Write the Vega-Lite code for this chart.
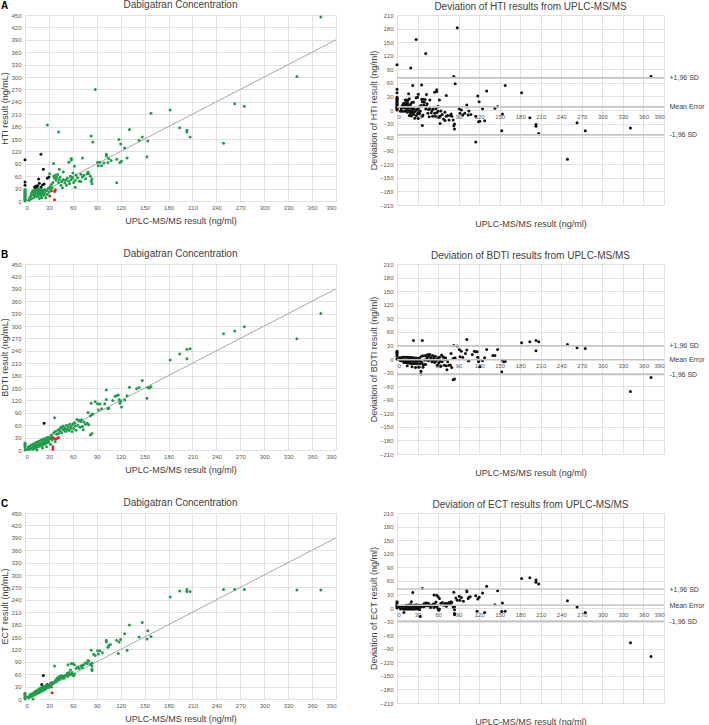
{
"$schema": "https://vega.github.io/schema/vega-lite/v6.json",
"padding": {"left": 0, "top": 0, "right": 1, "bottom": 1},
"spacing": 21,
"config": {
  "font": "Liberation Sans",
  "view": {"stroke": null},
  "axis": {"labelFontSize": 6, "labelColor": "#595959", "labelOverlap": false, "titleFontSize": 9, "titleFontWeight": "normal", "titleColor": "#404040", "gridColor": "#d9d9d9", "gridWidth": 0.8, "ticks": false, "domain": false, "labelPadding": 3, "titlePadding": 3},
  "axisX": {"titlePadding": 6, "labelOverlap": false},
  "axisY": {"titlePadding": 1, "labelPadding": 4, "labelOverlap": false},
  "title": {"fontSize": 10, "fontWeight": "normal", "color": "#404040", "offset": 2},
  "circle": {"size": 9, "opacity": 1}
},
"datasets": {
"diag": [{"x": 0, "y": 0}, {"x": 390, "y": 390}],
"sdA": [{"v": 71}, {"v": 7}, {"v": -55}],
"sdB": [{"v": 29}, {"v": -1.5}, {"v": -34}],
"sdC": [{"v": 42}, {"v": 6}, {"v": -29}],
"A": [
{"x":371,"y":445,"d":74,"c":"g"},{"x":341,"y":301,"d":-40,"c":"g"},{"x":275,"y":229,"d":-46,"c":"g"},{"x":263,"y":235,"d":-28,"c":"g"},{"x":249,"y":140,"d":-109,"c":"g"},{"x":207,"y":155,"d":-52,"c":"g"},{"x":203,"y":171,"d":-32,"c":"g"},{"x":203,"y":167,"d":-36,"c":"g"},{"x":194,"y":177,"d":-17,"c":"g"},{"x":182,"y":220,"d":38,"c":"g"},{"x":158,"y":212,"d":54,"c":"g"},{"x":154,"y":145,"d":-9,"c":"g"},{"x":153,"y":107,"d":-46,"c":"g"},{"x":147,"y":155,"d":8,"c":"g"},{"x":143,"y":147,"d":4,"c":"g"},{"x":131,"y":173,"d":42,"c":"g"},{"x":128,"y":104,"d":-24,"c":"g"},{"x":125,"y":128,"d":3,"c":"g"},{"x":120,"y":138,"d":18,"c":"g"},{"x":118,"y":149,"d":31,"c":"g"},{"x":119,"y":93,"d":-26,"c":"g"},{"x":115,"y":101,"d":-14,"c":"g"},{"x":115,"y":44,"d":-71,"c":"g"},{"x":121,"y":96,"d":-25,"c":"g"},{"x":102,"y":113,"d":11,"c":"g"},{"x":102,"y":109,"d":7,"c":"g"},{"x":105,"y":103,"d":-2,"c":"g"},{"x":104,"y":93,"d":-11,"c":"g"},{"x":91,"y":94,"d":3,"c":"g"},{"x":94,"y":94,"d":0,"c":"g"},{"x":92,"y":85,"d":-7,"c":"g"},{"x":88,"y":270,"d":182,"c":"g"},{"x":83,"y":157,"d":74,"c":"g"},{"x":85,"y":143,"d":58,"c":"g"},{"x":72,"y":104,"d":32,"c":"g"},{"x":79,"y":70,"d":-9,"c":"g"},{"x":80,"y":66,"d":-14,"c":"g"},{"x":82,"y":60,"d":-22,"c":"g"},{"x":83,"y":48,"d":-35,"c":"g"},{"x":84,"y":42,"d":-42,"c":"g"},{"x":84,"y":53,"d":-31,"c":"g"},{"x":70,"y":65,"d":-5,"c":"g"},{"x":70,"y":47,"d":-23,"c":"g"},{"x":58,"y":103,"d":45,"c":"g"},{"x":58,"y":99,"d":41,"c":"g"},{"x":55,"y":94,"d":39,"c":"g"},{"x":62,"y":84,"d":22,"c":"g"},{"x":63,"y":33,"d":-30,"c":"g"},{"x":43,"y":77,"d":34,"c":"g"},{"x":42,"y":167,"d":125,"c":"g"},{"x":28,"y":184,"d":156,"c":"g"},{"x":36,"y":91,"d":55,"c":"g"},{"x":31,"y":66,"d":35,"c":"g"},{"x":60,"y":68,"d":8,"c":"g"},{"x":48,"y":70,"d":22,"c":"g"},
{"x":36,"y":60,"d":24,"c":"g"},{"x":37,"y":55,"d":18,"c":"g"},{"x":38,"y":62,"d":24,"c":"g"},{"x":39,"y":50,"d":11,"c":"g"},{"x":40,"y":57,"d":17,"c":"g"},{"x":41,"y":64,"d":23,"c":"g"},{"x":42,"y":45,"d":3,"c":"g"},{"x":43,"y":52,"d":9,"c":"g"},{"x":44,"y":58,"d":14,"c":"g"},{"x":45,"y":38,"d":-7,"c":"g"},{"x":46,"y":47,"d":1,"c":"g"},{"x":47,"y":32,"d":-15,"c":"g"},{"x":48,"y":52,"d":4,"c":"g"},{"x":50,"y":44,"d":-6,"c":"g"},{"x":51,"y":50,"d":-1,"c":"g"},{"x":52,"y":38,"d":-14,"c":"g"},{"x":53,"y":55,"d":2,"c":"g"},{"x":55,"y":48,"d":-7,"c":"g"},{"x":56,"y":42,"d":-14,"c":"g"},{"x":57,"y":60,"d":3,"c":"g"},{"x":58,"y":52,"d":-6,"c":"g"},{"x":60,"y":57,"d":-3,"c":"g"},{"x":61,"y":45,"d":-16,"c":"g"},{"x":63,"y":50,"d":-13,"c":"g"},{"x":64,"y":62,"d":-2,"c":"g"},{"x":66,"y":56,"d":-10,"c":"g"},{"x":68,"y":48,"d":-20,"c":"g"},{"x":72,"y":58,"d":-14,"c":"g"},{"x":74,"y":62,"d":-12,"c":"g"},{"x":76,"y":54,"d":-22,"c":"g"},{"x":78,"y":66,"d":-12,"c":"g"},{"x":96,"y":85,"d":-11,"c":"g"},{"x":99,"y":92,"d":-7,"c":"g"},{"x":108,"y":98,"d":-10,"c":"g"},
{"x":0,"y":100,"d":100,"c":"k"},{"x":0,"y":46,"d":46,"c":"k"},{"x":0,"y":38,"d":38,"c":"k"},{"x":20,"y":113,"d":93,"c":"k"},{"x":23,"y":77,"d":54,"c":"k"},{"x":17,"y":53,"d":36,"c":"k"},{"x":18,"y":43,"d":25,"c":"k"},{"x":24,"y":41,"d":17,"c":"k"},{"x":22,"y":39,"d":17,"c":"k"},{"x":28,"y":55,"d":27,"c":"k"},{"x":30,"y":58,"d":28,"c":"k"},{"x":12,"y":34,"d":22,"c":"k"},{"x":15,"y":31,"d":16,"c":"k"},{"x":13,"y":29,"d":16,"c":"k"},{"x":20,"y":33,"d":13,"c":"k"},{"x":14,"y":36,"d":22,"c":"k"},{"x":16,"y":37,"d":21,"c":"k"},
{"x":33,"y":25,"d":-8,"c":"r"},{"x":31,"y":12,"d":-19,"c":"r"},{"x":38,"y":27,"d":-11,"c":"r"},{"x":37,"y":23,"d":-14,"c":"r"},{"x":37,"y":3,"d":-34,"c":"r"},
{"x":0,"y":0,"d":0,"c":"g"},{"x":0,"y":2,"d":2,"c":"g"},{"x":0,"y":4,"d":4,"c":"g"},{"x":0,"y":6,"d":6,"c":"g"},{"x":0,"y":8,"d":8,"c":"g"},{"x":0,"y":10,"d":10,"c":"g"},{"x":0,"y":12,"d":12,"c":"g"},{"x":0,"y":14,"d":14,"c":"g"},{"x":0,"y":16,"d":16,"c":"g"},{"x":0,"y":18,"d":18,"c":"g"},{"x":0,"y":20,"d":20,"c":"g"},{"x":0,"y":22,"d":22,"c":"g"},{"x":0,"y":24,"d":24,"c":"g"},{"x":0,"y":26,"d":26,"c":"g"},{"x":0,"y":28,"d":28,"c":"g"},
{"x":5,"y":2,"d":-3,"c":"g"},{"x":6,"y":8,"d":2,"c":"g"},{"x":7,"y":12,"d":5,"c":"g"},{"x":8,"y":5,"d":-3,"c":"g"},{"x":8,"y":18,"d":10,"c":"g"},{"x":9,"y":22,"d":13,"c":"g"},{"x":10,"y":15,"d":5,"c":"g"},{"x":10,"y":25,"d":15,"c":"g"},{"x":11,"y":20,"d":9,"c":"g"},{"x":11,"y":8,"d":-3,"c":"g"},{"x":12,"y":26,"d":14,"c":"g"},{"x":12,"y":17,"d":5,"c":"g"},{"x":13,"y":22,"d":9,"c":"g"},{"x":13,"y":12,"d":-1,"c":"g"},{"x":14,"y":27,"d":13,"c":"g"},{"x":14,"y":19,"d":5,"c":"g"},{"x":15,"y":24,"d":9,"c":"g"},{"x":15,"y":10,"d":-5,"c":"g"},{"x":16,"y":28,"d":12,"c":"g"},{"x":16,"y":18,"d":2,"c":"g"},{"x":17,"y":25,"d":8,"c":"g"},{"x":17,"y":14,"d":-3,"c":"g"},{"x":18,"y":22,"d":4,"c":"g"},{"x":18,"y":6,"d":-12,"c":"g"},{"x":19,"y":28,"d":9,"c":"g"},{"x":19,"y":16,"d":-3,"c":"g"},{"x":20,"y":25,"d":5,"c":"g"},{"x":20,"y":12,"d":-8,"c":"g"},{"x":21,"y":20,"d":-1,"c":"g"},{"x":21,"y":8,"d":-13,"c":"g"},{"x":22,"y":27,"d":5,"c":"g"},{"x":22,"y":17,"d":-5,"c":"g"},{"x":23,"y":24,"d":1,"c":"g"},{"x":24,"y":14,"d":-10,"c":"g"},{"x":25,"y":28,"d":3,"c":"g"},{"x":25,"y":20,"d":-5,"c":"g"},{"x":26,"y":8,"d":-18,"c":"g"},{"x":27,"y":25,"d":-2,"c":"g"},{"x":28,"y":16,"d":-12,"c":"g"},{"x":29,"y":30,"d":1,"c":"g"},{"x":30,"y":22,"d":-8,"c":"g"},{"x":31,"y":34,"d":3,"c":"g"},{"x":32,"y":28,"d":-4,"c":"g"},{"x":33,"y":40,"d":7,"c":"g"},{"x":34,"y":32,"d":-2,"c":"g"},{"x":35,"y":45,"d":10,"c":"g"}
],
"B": [
{"x":371,"y":330,"d":-41,"c":"g"},{"x":341,"y":269,"d":-72,"c":"g"},{"x":275,"y":298,"d":23,"c":"g"},{"x":263,"y":288,"d":25,"c":"g"},{"x":249,"y":281,"d":32,"c":"g"},{"x":207,"y":245,"d":38,"c":"g"},{"x":203,"y":244,"d":41,"c":"g"},{"x":203,"y":221,"d":18,"c":"g"},{"x":194,"y":232,"d":38,"c":"g"},{"x":182,"y":218,"d":36,"c":"g"},{"x":158,"y":153,"d":-5,"c":"g"},{"x":156,"y":150,"d":-6,"c":"g"},{"x":154,"y":151,"d":-3,"c":"g"},{"x":153,"y":125,"d":-28,"c":"g"},{"x":147,"y":168,"d":21,"c":"g"},{"x":143,"y":151,"d":8,"c":"g"},{"x":131,"y":152,"d":21,"c":"g"},{"x":128,"y":131,"d":3,"c":"g"},{"x":125,"y":121,"d":-4,"c":"g"},{"x":120,"y":118,"d":-2,"c":"g"},{"x":118,"y":122,"d":4,"c":"g"},{"x":119,"y":113,"d":-6,"c":"g"},{"x":115,"y":131,"d":16,"c":"g"},{"x":117,"y":133,"d":16,"c":"g"},{"x":113,"y":130,"d":17,"c":"g"},{"x":102,"y":145,"d":43,"c":"g"},{"x":102,"y":122,"d":20,"c":"g"},{"x":105,"y":101,"d":-4,"c":"g"},{"x":104,"y":100,"d":-4,"c":"g"},{"x":91,"y":112,"d":21,"c":"g"},{"x":94,"y":111,"d":17,"c":"g"},{"x":92,"y":97,"d":5,"c":"g"},{"x":88,"y":117,"d":29,"c":"g"},{"x":83,"y":113,"d":30,"c":"g"},{"x":85,"y":87,"d":2,"c":"g"},{"x":84,"y":40,"d":-44,"c":"g"},{"x":82,"y":36,"d":-46,"c":"g"},{"x":79,"y":91,"d":12,"c":"g"},{"x":80,"y":61,"d":-19,"c":"g"},{"x":72,"y":57,"d":-15,"c":"g"},{"x":70,"y":69,"d":-1,"c":"g"},{"x":73,"y":49,"d":-24,"c":"g"},{"x":68,"y":72,"d":4,"c":"g"},{"x":82,"y":83,"d":1,"c":"g"},{"x":84,"y":86,"d":2,"c":"g"},{"x":100,"y":112,"d":12,"c":"g"},{"x":110,"y":120,"d":10,"c":"g"},{"x":96,"y":100,"d":4,"c":"g"},{"x":121,"y":104,"d":-17,"c":"g"},{"x":140,"y":148,"d":8,"c":"g"},
{"x":37,"y":78,"d":41,"c":"g"},{"x":36,"y":42,"d":6,"c":"g"},{"x":38,"y":45,"d":7,"c":"g"},{"x":40,"y":38,"d":-2,"c":"g"},{"x":41,"y":48,"d":7,"c":"g"},{"x":42,"y":40,"d":-2,"c":"g"},{"x":43,"y":50,"d":7,"c":"g"},{"x":44,"y":46,"d":2,"c":"g"},{"x":45,"y":55,"d":10,"c":"g"},{"x":46,"y":42,"d":-4,"c":"g"},{"x":47,"y":52,"d":5,"c":"g"},{"x":48,"y":58,"d":10,"c":"g"},{"x":49,"y":48,"d":-1,"c":"g"},{"x":50,"y":53,"d":3,"c":"g"},{"x":51,"y":45,"d":-6,"c":"g"},{"x":52,"y":60,"d":8,"c":"g"},{"x":53,"y":50,"d":-3,"c":"g"},{"x":54,"y":56,"d":2,"c":"g"},{"x":55,"y":47,"d":-8,"c":"g"},{"x":56,"y":62,"d":6,"c":"g"},{"x":57,"y":52,"d":-5,"c":"g"},{"x":58,"y":57,"d":-1,"c":"g"},{"x":59,"y":45,"d":-14,"c":"g"},{"x":60,"y":63,"d":3,"c":"g"},{"x":61,"y":52,"d":-9,"c":"g"},{"x":62,"y":66,"d":4,"c":"g"},{"x":63,"y":58,"d":-5,"c":"g"},{"x":64,"y":48,"d":-16,"c":"g"},{"x":65,"y":74,"d":9,"c":"g"},{"x":66,"y":60,"d":-6,"c":"g"},{"x":67,"y":72,"d":5,"c":"g"},{"x":69,"y":55,"d":-14,"c":"g"},{"x":71,"y":73,"d":2,"c":"g"},{"x":74,"y":68,"d":-6,"c":"g"},{"x":76,"y":62,"d":-14,"c":"g"},{"x":78,"y":65,"d":-13,"c":"g"},
{"x":24,"y":65,"d":41,"c":"k"},
{"x":32,"y":28,"d":-4,"c":"r"},{"x":34,"y":30,"d":-4,"c":"r"},{"x":36,"y":29,"d":-7,"c":"r"},{"x":38,"y":26,"d":-12,"c":"r"},{"x":40,"y":28,"d":-12,"c":"r"},{"x":42,"y":30,"d":-12,"c":"r"},{"x":35,"y":8,"d":-27,"c":"r"},{"x":35,"y":2,"d":-33,"c":"r"},
{"x":0,"y":0,"d":0,"c":"g"},{"x":0,"y":6,"d":6,"c":"g"},{"x":0,"y":10,"d":10,"c":"g"},{"x":0,"y":12,"d":12,"c":"g"},{"x":0,"y":15,"d":15,"c":"g"},{"x":0,"y":17,"d":17,"c":"g"},
{"x":3,"y":2,"d":-1,"c":"g"},{"x":4,"y":7,"d":3,"c":"g"},{"x":5,"y":1,"d":-4,"c":"g"},{"x":6,"y":9,"d":3,"c":"g"},{"x":7,"y":3,"d":-4,"c":"g"},{"x":8,"y":12,"d":4,"c":"g"},{"x":9,"y":5,"d":-4,"c":"g"},{"x":10,"y":14,"d":4,"c":"g"},{"x":10,"y":2,"d":-8,"c":"g"},{"x":11,"y":8,"d":-3,"c":"g"},{"x":12,"y":16,"d":4,"c":"g"},{"x":12,"y":4,"d":-8,"c":"g"},{"x":13,"y":10,"d":-3,"c":"g"},{"x":14,"y":18,"d":4,"c":"g"},{"x":14,"y":6,"d":-8,"c":"g"},{"x":15,"y":12,"d":-3,"c":"g"},{"x":16,"y":20,"d":4,"c":"g"},{"x":16,"y":8,"d":-8,"c":"g"},{"x":17,"y":14,"d":-3,"c":"g"},{"x":18,"y":21,"d":3,"c":"g"},{"x":18,"y":9,"d":-9,"c":"g"},{"x":19,"y":15,"d":-4,"c":"g"},{"x":20,"y":24,"d":4,"c":"g"},{"x":20,"y":10,"d":-10,"c":"g"},{"x":21,"y":17,"d":-4,"c":"g"},{"x":22,"y":25,"d":3,"c":"g"},{"x":22,"y":12,"d":-10,"c":"g"},{"x":23,"y":19,"d":-4,"c":"g"},{"x":24,"y":27,"d":3,"c":"g"},{"x":24,"y":14,"d":-10,"c":"g"},{"x":25,"y":21,"d":-4,"c":"g"},{"x":26,"y":28,"d":2,"c":"g"},{"x":26,"y":16,"d":-10,"c":"g"},{"x":27,"y":23,"d":-4,"c":"g"},{"x":28,"y":30,"d":2,"c":"g"},{"x":28,"y":18,"d":-10,"c":"g"},{"x":29,"y":25,"d":-4,"c":"g"},{"x":30,"y":31,"d":1,"c":"g"},{"x":30,"y":20,"d":-10,"c":"g"},{"x":31,"y":27,"d":-4,"c":"g"},{"x":33,"y":36,"d":3,"c":"g"},{"x":34,"y":24,"d":-10,"c":"g"},{"x":15,"y":0,"d":-15,"c":"g"},{"x":22,"y":5,"d":-17,"c":"g"},{"x":27,"y":8,"d":-19,"c":"g"},{"x":32,"y":14,"d":-18,"c":"g"},{"x":38,"y":20,"d":-18,"c":"g"}
],
"C": [
{"x":371,"y":264,"d":-107,"c":"g"},{"x":341,"y":264,"d":-77,"c":"g"},{"x":275,"y":265,"d":-10,"c":"g"},{"x":263,"y":265,"d":2,"c":"g"},{"x":249,"y":265,"d":16,"c":"g"},{"x":207,"y":260,"d":53,"c":"g"},{"x":203,"y":265,"d":62,"c":"g"},{"x":203,"y":260,"d":57,"c":"g"},{"x":194,"y":261,"d":67,"c":"g"},{"x":182,"y":247,"d":65,"c":"g"},{"x":158,"y":151,"d":-7,"c":"g"},{"x":154,"y":165,"d":11,"c":"g"},{"x":153,"y":145,"d":-8,"c":"g"},{"x":147,"y":185,"d":38,"c":"g"},{"x":143,"y":150,"d":7,"c":"g"},{"x":131,"y":179,"d":48,"c":"g"},{"x":128,"y":118,"d":-10,"c":"g"},{"x":125,"y":158,"d":33,"c":"g"},{"x":120,"y":144,"d":24,"c":"g"},{"x":118,"y":138,"d":20,"c":"g"},{"x":117,"y":110,"d":-7,"c":"g"},{"x":115,"y":142,"d":27,"c":"g"},{"x":102,"y":142,"d":40,"c":"g"},{"x":102,"y":138,"d":36,"c":"g"},{"x":105,"y":129,"d":24,"c":"g"},{"x":104,"y":125,"d":21,"c":"g"},{"x":91,"y":117,"d":26,"c":"g"},{"x":94,"y":117,"d":23,"c":"g"},{"x":92,"y":109,"d":17,"c":"g"},{"x":88,"y":105,"d":17,"c":"g"},{"x":83,"y":118,"d":35,"c":"g"},{"x":84,"y":87,"d":3,"c":"g"},{"x":84,"y":80,"d":-4,"c":"g"},{"x":84,"y":72,"d":-12,"c":"g"},{"x":84,"y":69,"d":-15,"c":"g"},{"x":79,"y":93,"d":14,"c":"g"},{"x":72,"y":82,"d":10,"c":"g"},{"x":58,"y":86,"d":28,"c":"g"},{"x":62,"y":83,"d":21,"c":"g"},{"x":60,"y":85,"d":25,"c":"g"},{"x":37,"y":80,"d":43,"c":"g"},{"x":54,"y":83,"d":29,"c":"g"},{"x":107,"y":132,"d":25,"c":"g"},{"x":97,"y":112,"d":15,"c":"g"},
{"x":23,"y":57,"d":34,"c":"k"},{"x":21,"y":35,"d":14,"c":"k"},{"x":27,"y":32,"d":5,"c":"k"},{"x":29,"y":32,"d":3,"c":"k"},{"x":28,"y":35,"d":7,"c":"k"},
{"x":33,"y":29,"d":-4,"c":"r"},{"x":34,"y":15,"d":-19,"c":"r"},
{"x":36,"y":40,"d":4,"c":"g"},{"x":38,"y":45,"d":7,"c":"g"},{"x":39,"y":42,"d":3,"c":"g"},{"x":40,"y":50,"d":10,"c":"g"},{"x":41,"y":46,"d":5,"c":"g"},{"x":42,"y":53,"d":11,"c":"g"},{"x":43,"y":48,"d":5,"c":"g"},{"x":44,"y":55,"d":11,"c":"g"},{"x":45,"y":50,"d":5,"c":"g"},{"x":46,"y":56,"d":10,"c":"g"},{"x":47,"y":52,"d":5,"c":"g"},{"x":48,"y":55,"d":7,"c":"g"},{"x":49,"y":50,"d":1,"c":"g"},{"x":50,"y":56,"d":6,"c":"g"},{"x":52,"y":58,"d":6,"c":"g"},{"x":53,"y":62,"d":9,"c":"g"},{"x":54,"y":55,"d":1,"c":"g"},{"x":55,"y":64,"d":9,"c":"g"},{"x":56,"y":60,"d":4,"c":"g"},{"x":57,"y":70,"d":13,"c":"g"},{"x":58,"y":60,"d":2,"c":"g"},{"x":59,"y":64,"d":5,"c":"g"},{"x":60,"y":58,"d":-2,"c":"g"},{"x":61,"y":56,"d":-5,"c":"g"},{"x":62,"y":60,"d":-2,"c":"g"},{"x":64,"y":74,"d":10,"c":"g"},{"x":66,"y":78,"d":12,"c":"g"},{"x":68,"y":74,"d":6,"c":"g"},{"x":70,"y":80,"d":10,"c":"g"},{"x":72,"y":76,"d":4,"c":"g"},{"x":74,"y":83,"d":9,"c":"g"},{"x":76,"y":88,"d":12,"c":"g"},{"x":78,"y":86,"d":8,"c":"g"},{"x":80,"y":92,"d":12,"c":"g"},{"x":82,"y":84,"d":2,"c":"g"},{"x":86,"y":108,"d":22,"c":"g"},
{"x":0,"y":0,"d":0,"c":"g"},{"x":0,"y":3,"d":3,"c":"g"},{"x":0,"y":6,"d":6,"c":"g"},{"x":0,"y":9,"d":9,"c":"g"},{"x":0,"y":12,"d":12,"c":"g"},{"x":0,"y":14,"d":14,"c":"g"},
{"x":3,"y":5,"d":2,"c":"g"},{"x":5,"y":3,"d":-2,"c":"g"},{"x":6,"y":10,"d":4,"c":"g"},{"x":7,"y":6,"d":-1,"c":"g"},{"x":8,"y":12,"d":4,"c":"g"},{"x":9,"y":7,"d":-2,"c":"g"},{"x":10,"y":14,"d":4,"c":"g"},{"x":10,"y":0,"d":-10,"c":"g"},{"x":11,"y":9,"d":-2,"c":"g"},{"x":12,"y":17,"d":5,"c":"g"},{"x":12,"y":10,"d":-2,"c":"g"},{"x":13,"y":14,"d":1,"c":"g"},{"x":14,"y":20,"d":6,"c":"g"},{"x":14,"y":12,"d":-2,"c":"g"},{"x":15,"y":18,"d":3,"c":"g"},{"x":16,"y":22,"d":6,"c":"g"},{"x":16,"y":14,"d":-2,"c":"g"},{"x":17,"y":20,"d":3,"c":"g"},{"x":18,"y":25,"d":7,"c":"g"},{"x":18,"y":16,"d":-2,"c":"g"},{"x":19,"y":22,"d":3,"c":"g"},{"x":20,"y":27,"d":7,"c":"g"},{"x":20,"y":18,"d":-2,"c":"g"},{"x":21,"y":24,"d":3,"c":"g"},{"x":22,"y":28,"d":6,"c":"g"},{"x":22,"y":20,"d":-2,"c":"g"},{"x":23,"y":26,"d":3,"c":"g"},{"x":24,"y":30,"d":6,"c":"g"},{"x":24,"y":22,"d":-2,"c":"g"},{"x":25,"y":28,"d":3,"c":"g"},{"x":26,"y":32,"d":6,"c":"g"},{"x":26,"y":24,"d":-2,"c":"g"},{"x":27,"y":29,"d":2,"c":"g"},{"x":28,"y":33,"d":5,"c":"g"},{"x":29,"y":27,"d":-2,"c":"g"},{"x":30,"y":34,"d":4,"c":"g"},{"x":31,"y":30,"d":-1,"c":"g"},{"x":32,"y":38,"d":6,"c":"g"},{"x":33,"y":35,"d":2,"c":"g"},{"x":34,"y":40,"d":6,"c":"g"},{"x":35,"y":37,"d":2,"c":"g"}
]
},
"vconcat": [
{"hconcat": [
 {"width": 311, "height": 186, "title": "Dabigatran Concentration",
  "layer": [
   {"data": {"name": "diag"}, "mark": {"type": "line", "color": "#a6a6a6", "strokeWidth": 1},
    "encoding": {"x": {"field": "x", "type": "quantitative", "title": "UPLC-MS/MS result (ng/ml)", "scale": {"domain": [0, 390], "nice": false}, "axis": {"values": [0,30,60,90,120,150,180,210,240,270,300,330,360,390], "labelOverlap": false}},
                 "y": {"field": "y", "type": "quantitative", "title": "HTI result (ng/mL)", "scale": {"domain": [0, 450], "nice": false}, "axis": {"values": [0,30,60,90,120,150,180,210,240,270,300,330,360,390,420,450], "labelOverlap": false}}}},
   {"data": {"name": "A"}, "mark": {"type": "circle"},
    "encoding": {"x": {"field": "x", "type": "quantitative", "title": "UPLC-MS/MS result (ng/ml)", "axis": {"values": [0,30,60,90,120,150,180,210,240,270,300,330,360,390], "labelOverlap": false}},
                 "y": {"field": "y", "type": "quantitative", "title": "HTI result (ng/mL)", "axis": {"values": [0,30,60,90,120,150,180,210,240,270,300,330,360,390,420,450], "labelOverlap": false}},
                 "color": {"field": "c", "type": "nominal", "scale": {"domain": ["g", "k", "r"], "range": ["#1f9e4a", "#111111", "#e3262a"]}, "legend": null}}}
  ]},
 {"width": 267, "height": 190, "title": {"text": "Deviation of HTI results from UPLC-MS/MS", "offset": 0},
  "layer": [
   {"data": {"name": "A"}, "mark": {"type": "circle", "color": "#111111"},
    "encoding": {"x": {"field": "x", "type": "quantitative", "title": "UPLC-MS/MS result (ng/ml)", "scale": {"domain": [0, 390], "nice": false}, "axis": {"values": [0,30,60,90,120,150,180,210,240,270,300,330,360,390], "labelOverlap": false, "offset": -95, "titleY": 113, "titleBaseline": "middle"}},
                 "y": {"field": "d", "type": "quantitative", "title": "Deviation of HTI result (ng/ml)", "scale": {"domain": [-210, 210], "nice": false}, "axis": {"values": [-210,-180,-150,-120,-90,-60,-30,0,30,60,90,120,150,180,210], "labelOverlap": false}}}},
   {"data": {"name": "sdA"}, "mark": {"type": "rule", "color": "#c4c4c4", "strokeWidth": 1.6},
    "encoding": {"y": {"field": "v", "type": "quantitative", "title": null, "axis": {"orient": "right", "values": [71, 7, -55], "grid": false, "labelOverlap": false, "labelFontSize": 7, "labelColor": "#404040", "labelPadding": 5, "labelExpr": "datum.value > 15 ? '+1,96 SD' : (datum.value < -15 ? '-1,96 SD' : 'Mean Error')"}}}}
  ],
  "resolve": {"axis": {"y": "independent"}}}
 ],
 "spacing": 31,
 "title": {"text": "A", "anchor": "start", "fontSize": 10, "fontWeight": "bold", "color": "#000000", "dy": 13}},
{"hconcat": [
 {"width": 311, "height": 186, "title": "Dabigatran Concentration",
  "layer": [
   {"data": {"name": "diag"}, "mark": {"type": "line", "color": "#a6a6a6", "strokeWidth": 1},
    "encoding": {"x": {"field": "x", "type": "quantitative", "title": "UPLC-MS/MS result (ng/ml)", "scale": {"domain": [0, 390], "nice": false}, "axis": {"values": [0,30,60,90,120,150,180,210,240,270,300,330,360,390], "labelOverlap": false}},
                 "y": {"field": "y", "type": "quantitative", "title": "BDTI result (ng/mL)", "scale": {"domain": [0, 450], "nice": false}, "axis": {"values": [0,30,60,90,120,150,180,210,240,270,300,330,360,390,420,450], "labelOverlap": false}}}},
   {"data": {"name": "B"}, "mark": {"type": "circle"},
    "encoding": {"x": {"field": "x", "type": "quantitative", "title": "UPLC-MS/MS result (ng/ml)", "axis": {"values": [0,30,60,90,120,150,180,210,240,270,300,330,360,390], "labelOverlap": false}},
                 "y": {"field": "y", "type": "quantitative", "title": "BDTI result (ng/mL)", "axis": {"values": [0,30,60,90,120,150,180,210,240,270,300,330,360,390,420,450], "labelOverlap": false}},
                 "color": {"field": "c", "type": "nominal", "scale": {"domain": ["g", "k", "r"], "range": ["#1f9e4a", "#111111", "#e3262a"]}, "legend": null}}}
  ]},
 {"width": 267, "height": 190, "title": {"text": "Deviation of BDTI results from UPLC-MS/MS", "offset": 0},
  "layer": [
   {"data": {"name": "B"}, "mark": {"type": "circle", "color": "#111111"},
    "encoding": {"x": {"field": "x", "type": "quantitative", "title": "UPLC-MS/MS result (ng/ml)", "scale": {"domain": [0, 390], "nice": false}, "axis": {"values": [0,30,60,90,120,150,180,210,240,270,300,330,360,390], "labelOverlap": false, "offset": -95, "titleY": 113, "titleBaseline": "middle"}},
                 "y": {"field": "d", "type": "quantitative", "title": "Deviation of BDTI result (ng/ml)", "scale": {"domain": [-210, 210], "nice": false}, "axis": {"values": [-210,-180,-150,-120,-90,-60,-30,0,30,60,90,120,150,180,210], "labelOverlap": false}}}},
   {"data": {"name": "sdB"}, "mark": {"type": "rule", "color": "#c4c4c4", "strokeWidth": 1.6},
    "encoding": {"y": {"field": "v", "type": "quantitative", "title": null, "axis": {"orient": "right", "values": [29, -1.5, -34], "grid": false, "labelOverlap": false, "labelFontSize": 7, "labelColor": "#404040", "labelPadding": 5, "labelExpr": "datum.value > 15 ? '+1,96 SD' : (datum.value < -15 ? '-1,96 SD' : 'Mean Error')"}}}}
  ],
  "resolve": {"axis": {"y": "independent"}}}
 ],
 "spacing": 31,
 "title": {"text": "B", "anchor": "start", "fontSize": 10, "fontWeight": "bold", "color": "#000000", "dy": 13}},
{"hconcat": [
 {"width": 311, "height": 186, "title": "Dabigatran Concentration",
  "layer": [
   {"data": {"name": "diag"}, "mark": {"type": "line", "color": "#a6a6a6", "strokeWidth": 1},
    "encoding": {"x": {"field": "x", "type": "quantitative", "title": "UPLC-MS/MS result (ng/ml)", "scale": {"domain": [0, 390], "nice": false}, "axis": {"values": [0,30,60,90,120,150,180,210,240,270,300,330,360,390], "labelOverlap": false}},
                 "y": {"field": "y", "type": "quantitative", "title": "ECT result (ng/mL)", "scale": {"domain": [0, 450], "nice": false}, "axis": {"values": [0,30,60,90,120,150,180,210,240,270,300,330,360,390,420,450], "labelOverlap": false}}}},
   {"data": {"name": "C"}, "mark": {"type": "circle"},
    "encoding": {"x": {"field": "x", "type": "quantitative", "title": "UPLC-MS/MS result (ng/ml)", "axis": {"values": [0,30,60,90,120,150,180,210,240,270,300,330,360,390], "labelOverlap": false}},
                 "y": {"field": "y", "type": "quantitative", "title": "ECT result (ng/mL)", "axis": {"values": [0,30,60,90,120,150,180,210,240,270,300,330,360,390,420,450], "labelOverlap": false}},
                 "color": {"field": "c", "type": "nominal", "scale": {"domain": ["g", "k", "r"], "range": ["#1f9e4a", "#111111", "#e3262a"]}, "legend": null}}}
  ]},
 {"width": 267, "height": 190, "title": {"text": "Deviation of ECT results from UPLC-MS/MS", "offset": 0},
  "layer": [
   {"data": {"name": "C"}, "mark": {"type": "circle", "color": "#111111"},
    "encoding": {"x": {"field": "x", "type": "quantitative", "title": "UPLC-MS/MS result (ng/ml)", "scale": {"domain": [0, 390], "nice": false}, "axis": {"values": [0,30,60,90,120,150,180,210,240,270,300,330,360,390], "labelOverlap": false, "offset": -95, "titleY": 113, "titleBaseline": "middle"}},
                 "y": {"field": "d", "type": "quantitative", "title": "Deviation of ECT result (ng/ml)", "scale": {"domain": [-210, 210], "nice": false}, "axis": {"values": [-210,-180,-150,-120,-90,-60,-30,0,30,60,90,120,150,180,210], "labelOverlap": false}}}},
   {"data": {"name": "sdC"}, "mark": {"type": "rule", "color": "#c4c4c4", "strokeWidth": 1.6},
    "encoding": {"y": {"field": "v", "type": "quantitative", "title": null, "axis": {"orient": "right", "values": [42, 6, -29], "grid": false, "labelOverlap": false, "labelFontSize": 7, "labelColor": "#404040", "labelPadding": 5, "labelExpr": "datum.value > 15 ? '+1,96 SD' : (datum.value < -15 ? '-1,96 SD' : 'Mean Error')"}}}}
  ],
  "resolve": {"axis": {"y": "independent"}}}
 ],
 "spacing": 31,
 "title": {"text": "C", "anchor": "start", "fontSize": 10, "fontWeight": "bold", "color": "#000000", "dy": 13}}
]
}
